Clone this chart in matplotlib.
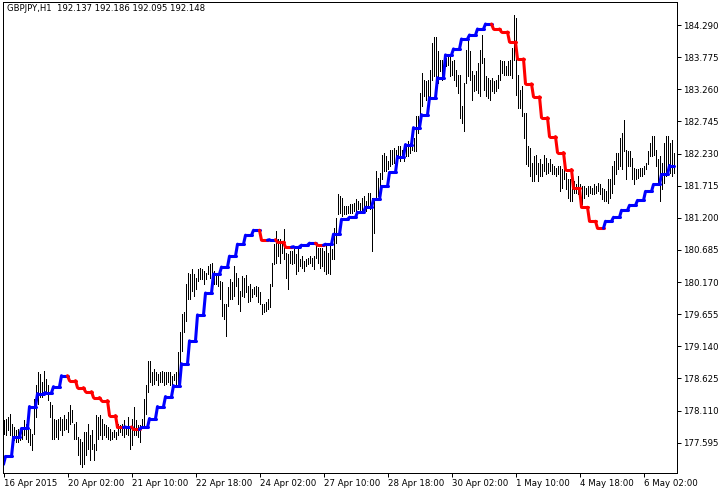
import numpy as np
import matplotlib
matplotlib.use("Agg")
import matplotlib.pyplot as plt
from matplotlib.collections import LineCollection

# GBPJPY H1 bars (price units)
HIGHS = [
    177.96, 177.98, 178.01, 178.05, 177.90, 177.85, 177.80, 177.82, 177.80, 177.85,
    177.96, 177.90, 177.82, 177.82, 177.74, 178.30, 178.52, 178.73, 178.70, 178.57,
    178.75, 178.62, 178.52, 178.25, 178.20, 177.98, 177.96, 177.98, 178.01, 177.98,
    178.04, 177.98, 178.09, 178.20, 178.12, 177.90, 177.93, 177.69, 177.66, 177.61,
    177.77, 177.77, 177.90, 177.72, 177.80, 177.58, 178.04, 178.01, 178.04, 177.98,
    177.90, 177.88, 177.85, 177.82, 177.77, 177.80, 177.77, 177.90, 177.88, 177.90,
    177.96, 177.85, 178.01, 177.85, 177.98, 178.17, 177.96, 177.88, 177.88, 177.98,
    178.30, 178.52, 178.91, 178.91, 178.73, 178.78, 178.73, 178.70, 178.73, 178.75,
    178.73, 178.73, 178.73, 178.73, 178.67, 178.70, 178.73, 179.05, 179.37, 179.66,
    179.69, 180.14, 180.32, 180.30, 180.38, 180.30, 180.24, 180.38, 180.40, 180.38,
    180.35, 180.32, 180.43, 180.46, 180.48, 180.35, 180.30, 180.32, 180.19, 180.17,
    179.82, 179.82, 180.09, 180.22, 180.17, 180.43, 180.32, 180.24, 180.03, 180.27,
    180.24, 180.28, 180.11, 180.14, 180.06, 180.09, 180.11, 180.09, 180.01, 179.82,
    179.82, 179.85, 179.90, 180.14, 180.48, 180.78, 180.99, 180.86, 180.86, 180.80,
    181.02, 180.64, 180.62, 180.67, 180.67, 180.70, 180.62, 180.72, 180.54, 180.59,
    180.51, 180.54, 180.56, 180.59, 180.56, 180.59, 180.78, 180.72, 180.72, 180.72,
    180.67, 180.75, 180.64, 180.75, 180.70, 181.04, 181.20, 181.58, 181.55, 181.52,
    181.39, 181.39, 181.39, 181.42, 181.42, 181.44, 181.50, 181.47, 181.44, 181.52,
    181.55, 181.47, 181.60, 181.60, 181.52, 181.50, 181.95, 181.84, 181.92, 182.21,
    182.24, 182.19, 182.11, 182.29, 182.29, 182.32, 182.29, 182.35, 182.35, 182.29,
    182.29, 182.37, 182.43, 182.40, 182.37, 182.48, 182.83, 182.83, 183.20, 183.52,
    183.41, 183.39, 183.41, 183.57, 184.00, 184.10, 184.10, 183.87, 183.73, 183.73,
    183.76, 183.76, 183.79, 183.79, 183.71, 183.73, 183.57, 183.49, 183.49, 182.99,
    183.36, 183.89, 184.13, 183.87, 183.55, 183.49, 183.55, 183.68, 183.89, 184.13,
    183.76, 183.47, 183.44, 183.41, 183.44, 183.39, 183.41, 183.49, 183.73, 183.71,
    183.71, 183.63, 183.71, 183.73, 183.92, 184.45, 184.40, 183.49, 183.25, 183.31,
    182.88, 182.88, 182.35, 182.32, 182.08, 182.19, 182.21, 182.08, 182.14, 182.06,
    182.21, 182.16, 182.08, 182.14, 182.06, 182.03, 182.00, 182.03, 182.03, 181.98,
    182.14, 181.92, 181.82, 181.82, 181.92, 181.79, 181.74, 181.87, 181.74, 181.71,
    181.71, 181.68, 181.71, 181.71, 181.68, 181.74, 181.71, 181.76, 181.74, 181.68,
    181.66, 181.63, 181.82, 181.82, 182.03, 182.11, 182.24, 182.24, 182.48, 182.56,
    182.77, 182.29, 182.27, 182.27, 182.16, 182.00, 181.98, 181.98, 182.00, 182.00,
    182.03, 182.08, 182.27, 182.40, 182.51, 182.51, 182.29, 182.14, 182.19, 182.08,
    182.40, 182.51, 182.51, 182.40, 182.45, 182.24,
]
LOWS = [
    177.74, 177.72, 177.80, 177.72, 177.66, 177.64, 177.61, 177.61, 177.64, 177.66,
    177.72, 177.66, 177.61, 177.56, 177.48, 177.74, 178.01, 178.22, 178.33, 178.33,
    178.38, 178.41, 178.28, 178.01, 177.66, 177.66, 177.69, 177.66, 177.80, 177.72,
    177.80, 177.82, 177.77, 177.90, 177.93, 177.66, 177.66, 177.40, 177.26, 177.21,
    177.26, 177.40, 177.50, 177.32, 177.50, 177.32, 177.48, 177.66, 177.72, 177.66,
    177.72, 177.69, 177.66, 177.64, 177.66, 177.69, 177.66, 177.72, 177.77, 177.72,
    177.69, 177.74, 177.72, 177.50, 177.56, 177.72, 177.72, 177.69, 177.61, 177.85,
    177.88, 178.06, 178.41, 178.57, 178.52, 178.54, 178.60, 178.52, 178.57, 178.57,
    178.52, 178.54, 178.57, 178.52, 178.54, 178.60, 178.52, 178.49, 178.62, 179.07,
    179.37, 179.55, 179.90, 179.90, 180.03, 179.95, 180.06, 180.19, 180.22, 180.22,
    180.14, 180.22, 180.30, 180.24, 180.32, 180.14, 180.14, 180.11, 179.90, 179.63,
    179.58, 179.31, 179.79, 179.90, 179.90, 179.95, 180.11, 179.82, 179.71, 179.95,
    179.93, 180.01, 179.85, 179.87, 179.93, 179.98, 179.95, 179.85, 179.82, 179.66,
    179.69, 179.71, 179.74, 179.77, 180.11, 180.46, 180.48, 180.59, 180.48, 180.64,
    180.54, 180.24, 180.06, 180.48, 180.46, 180.48, 180.30, 180.35, 180.43, 180.40,
    180.35, 180.43, 180.46, 180.48, 180.43, 180.38, 180.56, 180.48, 180.40, 180.43,
    180.35, 180.30, 180.32, 180.30, 180.54, 180.54, 180.80, 181.26, 181.28, 181.23,
    181.26, 181.26, 181.27, 181.27, 181.28, 181.31, 181.26, 181.34, 181.31, 181.28,
    181.34, 181.31, 181.36, 181.34, 180.67, 180.96, 181.50, 181.55, 181.66, 181.82,
    181.95, 181.95, 181.98, 182.03, 182.06, 182.08, 182.14, 182.19, 182.11, 182.16,
    182.11, 182.19, 182.19, 182.24, 182.29, 182.27, 182.27, 182.56, 182.67, 182.99,
    183.15, 183.09, 183.07, 183.15, 183.41, 183.47, 183.41, 183.36, 183.55, 183.41,
    183.57, 183.63, 183.65, 183.47, 183.49, 183.41, 183.31, 183.20, 182.80, 182.72,
    182.59, 183.36, 183.47, 183.41, 183.09, 183.23, 183.25, 183.20, 183.15, 183.68,
    183.25, 183.15, 183.12, 183.09, 183.23, 183.20, 183.23, 183.28, 183.41, 183.52,
    183.49, 183.49, 183.49, 183.49, 183.44, 183.73, 183.17, 182.96, 182.96, 182.83,
    182.48, 182.06, 182.03, 181.87, 181.79, 181.79, 181.90, 181.79, 181.87, 181.87,
    181.95, 181.90, 181.92, 181.95, 181.90, 181.90, 181.87, 181.90, 181.63, 181.68,
    181.82, 181.66, 181.52, 181.47, 181.47, 181.60, 181.60, 181.58, 181.58, 181.42,
    181.52, 181.58, 181.55, 181.60, 181.58, 181.58, 181.60, 181.63, 181.58, 181.50,
    181.47, 181.47, 181.44, 181.52, 181.60, 181.74, 181.90, 181.98, 182.03, 181.98,
    182.27, 181.82, 182.03, 182.03, 181.82, 181.74, 181.82, 181.84, 181.87, 181.87,
    181.90, 181.98, 182.06, 182.19, 182.19, 182.21, 182.03, 181.76, 181.47, 181.66,
    181.76, 181.87, 182.03, 181.92, 181.87, 181.92,
]

# indicator value of each H4 block shown on the H1 chart
LEVELS = [
    177.248, 177.375, 177.679, 177.823, 178.174, 178.381, 178.397, 178.493, 178.669, 178.589,
    178.477, 178.413, 178.318, 178.270, 178.030, 177.839, 177.847, 177.807, 177.839, 177.982,
    178.174, 178.334, 178.509, 178.861, 179.228, 179.643, 179.994, 180.298, 180.410, 180.585,
    180.777, 180.921, 181.000, 180.841, 180.849, 180.809, 180.729, 180.737, 180.761, 180.793,
    180.761, 180.777, 180.937, 181.176, 181.208, 181.288, 181.368, 181.495, 181.703, 181.927,
    182.182, 182.374, 182.645, 182.853, 183.124, 183.444, 183.811, 183.907, 184.066, 184.130,
    184.226, 184.306, 184.226, 184.178, 184.019, 183.747, 183.348, 183.140, 182.805, 182.501,
    182.246, 181.974, 181.671, 181.368, 181.144, 181.032, 181.144, 181.208, 181.320, 181.400,
    181.479, 181.623, 181.735, 181.895, 182.038,
]
BLOCK_BARS = [1] + [4] * 83 + [3]

TICK_BARS = [0, 32, 64, 96, 128, 160, 192, 224, 256, 288, 320]
TICK_LABELS = ["16 Apr 2015", "20 Apr 02:00", "21 Apr 10:00", "22 Apr 18:00",
               "24 Apr 02:00", "27 Apr 10:00", "28 Apr 18:00", "30 Apr 02:00",
               "1 May 10:00", "4 May 18:00", "6 May 02:00"]
PRICE_TICKS = [177.595, 178.110, 178.625, 179.140, 179.655, 180.170, 180.685,
               181.200, 181.715, 182.230, 182.745, 183.260, 183.775, 184.290]

HEADER = "GBPJPY,H1  192.137 192.186 192.095 192.148"


def main():
    fig = plt.figure(figsize=(7.28, 4.94), dpi=100)
    ax = fig.add_axes([2.5 / 728, 21.5 / 494, 674 / 728, 470 / 494])

    x = np.arange(len(HIGHS))
    ax.vlines(x, LOWS, HIGHS, colors="black", linewidth=0.5, antialiased=False)

    # colour of each block: up -> blue, down -> red, flat keeps previous
    block_cols = []
    prev = None
    for i, lv in enumerate(LEVELS):
        if i == 0 or lv > prev:
            c = "#0000ff"
        elif lv < prev:
            c = "#ff0000"
        else:
            c = block_cols[-1]
        block_cols.append(c)
        prev = lv

    ind = np.repeat(LEVELS, BLOCK_BARS)
    bar_cols = np.repeat(block_cols, BLOCK_BARS)
    segs = [[(i - 1, ind[i - 1]), (i, ind[i])] for i in range(1, len(ind))]
    lc = LineCollection(segs, colors=bar_cols[1:], linewidths=2.2, capstyle="round")
    ax.add_collection(lc)

    ax.set_xlim(-0.5, 336.5)
    ax.set_ylim(177.117, 184.651)

    ax.yaxis.tick_right()
    ax.set_yticks(PRICE_TICKS)
    ax.set_yticklabels([f"{v:.3f}" for v in PRICE_TICKS])
    ax.set_xticks(TICK_BARS)
    ax.set_xticklabels(TICK_LABELS, ha="left")

    ax.tick_params(axis="y", direction="out", length=3, width=0.72, pad=1.5,
                   labelsize=6.2, colors="black")
    ax.tick_params(axis="x", direction="out", length=3, width=0.72, pad=2,
                   labelsize=6.2, colors="black")
    for sp in ax.spines.values():
        sp.set_linewidth(0.72)
        sp.set_color("black")

    fig.text(7 / 728, 1 - 4 / 494, HEADER, fontsize=6.1, va="top", ha="left")

    fig.savefig("out.png", dpi=100, facecolor="white")
    plt.close(fig)


if __name__ == "__main__":
    main()
